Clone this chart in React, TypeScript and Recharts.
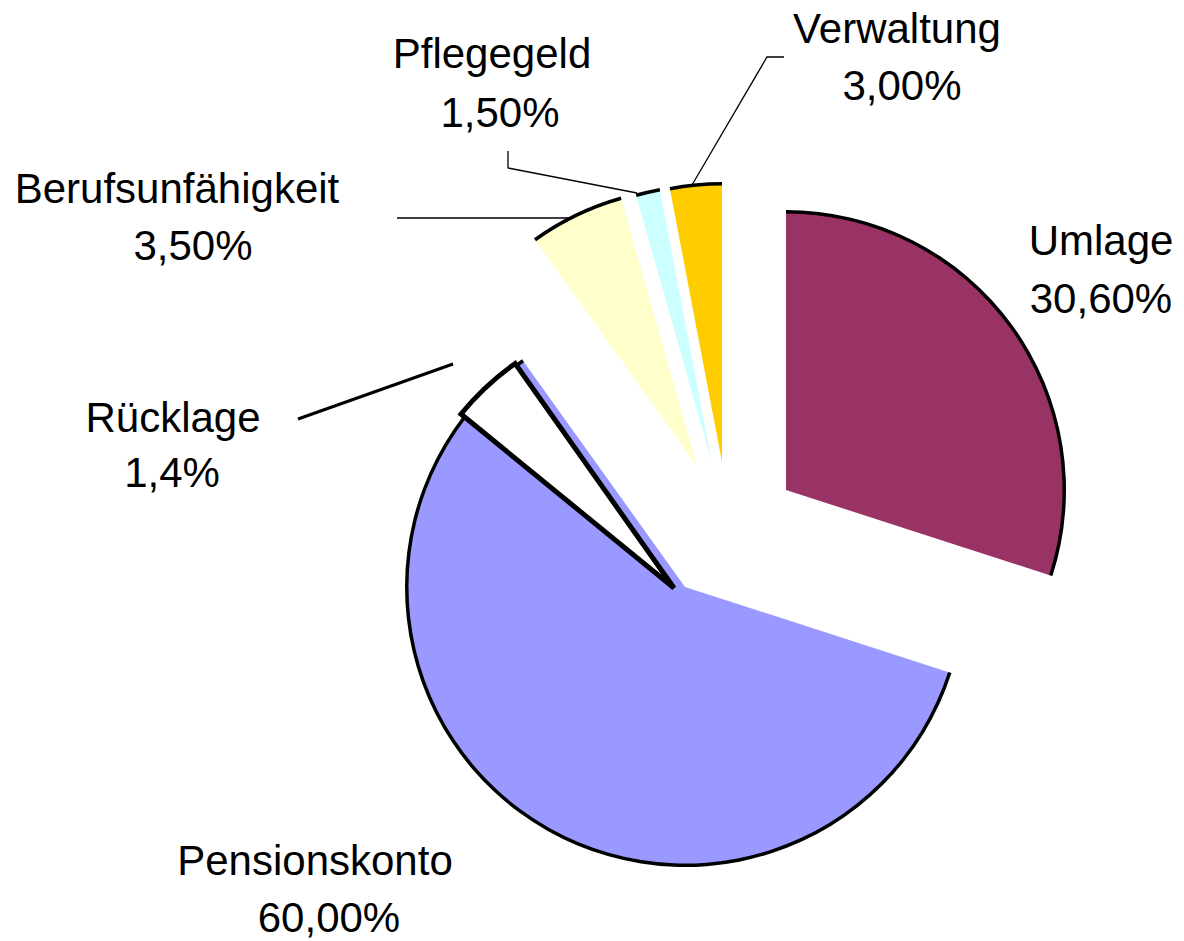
import { PieChart, Pie, Cell, Customized } from "recharts";

const NAMES = ["Umlage", "Pensionskonto", "Berufsunfähigkeit", "Pflegegeld", "Verwaltung"];
const VALUES = [30.0, 60.2, 5.5, 1.4, 3.0];
const COLORS = ["#993366", "#9999FF", "#FFFFCC", "#CCFFFF", "#FFCC00"];
// apex of each exploded slice
const CENTERS: [number, number][] = [
  [786, 490],
  [685, 587],
  [697, 466],
  [712, 463],
  [722, 462],
];

// Rücklage is drawn on top of the Pensionskonto slice
const RUECKLAGE_NAMES = ["_before", "Rücklage", "_after"];
const RUECKLAGE_VALUES = [85.9, 4.3, 9.8];
const RUECKLAGE_CENTER: [number, number] = [674, 588];

// label texts as printed
const LABEL_NAMES = ["Umlage", "Pensionskonto", "Rücklage", "Berufsunfähigkeit", "Pflegegeld", "Verwaltung"];
const LABEL_PCTS = ["30,60%", "60,00%", "1,4%", "3,50%", "1,50%", "3,00%"];

const W = 1184;
const H = 941;
const R = 278;
const FONT = "'Liberation Sans', Arial, sans-serif";

const data = NAMES.map((name, i) => ({ name, value: VALUES[i] }));
const rData = RUECKLAGE_NAMES.map((name, i) => ({ name, value: RUECKLAGE_VALUES[i] }));

// text placement: [x line1, y line1, x line2, y line2]
const LABEL_POS: Record<string, number[]> = {
  Umlage: [1101, 255, 1101, 313],
  Pensionskonto: [315, 875, 329, 932],
  "Rücklage": [173, 432, 172, 487],
  "Berufsunfähigkeit": [177, 203, 193, 260],
  Pflegegeld: [492, 68, 500, 127],
  Verwaltung: [897, 43, 902, 100],
};

const LEADERS = [
  { pts: "692,185 767,57 784,57", w: 1.3 },
  { pts: "637,193 508,168 508,151", w: 1.3 },
  { pts: "397,218 572,218", w: 1.3 },
  { pts: "298,419 453,364", w: 3 },
];

const Annotations = () => (
  <g>
    {LEADERS.map((l, i) => (
      <polyline key={i} points={l.pts} fill="none" stroke="#000" strokeWidth={l.w} />
    ))}
    {LABEL_NAMES.map((name, i) => {
      const p = LABEL_POS[name];
      return (
        <g key={name} fontFamily={FONT} fontSize={42} fill="#000" textAnchor="middle">
          <text x={p[0]} y={p[1]}>{name}</text>
          <text x={p[2]} y={p[3]}>{LABEL_PCTS[i]}</text>
        </g>
      );
    })}
  </g>
);

const slicePies = (i: number) => [
  <Pie
    key={`fill-${i}`}
    data={data}
    dataKey="value"
    nameKey="name"
    cx={CENTERS[i][0]}
    cy={CENTERS[i][1]}
    outerRadius={R}
    startAngle={90}
    endAngle={-270}
    isAnimationActive={false}
    stroke="none"
  >
    {data.map((_, j) => (
      <Cell key={j} fill={j === i ? COLORS[i] : "none"} stroke="none" />
    ))}
  </Pie>,
  <Pie
    key={`arc-${i}`}
    data={data}
    dataKey="value"
    nameKey="name"
    cx={CENTERS[i][0]}
    cy={CENTERS[i][1]}
    innerRadius={R - 1.5}
    outerRadius={R + 2}
    startAngle={90}
    endAngle={-270}
    isAnimationActive={false}
    stroke="none"
  >
    {data.map((_, j) => (
      <Cell key={j} fill={j === i ? "#000" : "none"} stroke="none" />
    ))}
  </Pie>,
];

export default function App() {
  return (
    <div style={{ position: "absolute", left: 0, top: 0, background: "#fff" }}>
      <PieChart width={W} height={H} margin={{ top: 0, right: 0, bottom: 0, left: 0 }}>
        {slicePies(0)}
        {slicePies(1)}
        <Pie
          data={rData}
          dataKey="value"
          nameKey="name"
          cx={RUECKLAGE_CENTER[0]}
          cy={RUECKLAGE_CENTER[1]}
          outerRadius={R - 3}
          startAngle={90}
          endAngle={-270}
          isAnimationActive={false}
        >
          {rData.map((d, j) => (
            <Cell
              key={j}
              fill={d.name === "Rücklage" ? "#fff" : "none"}
              stroke={d.name === "Rücklage" ? "#000" : "none"}
              strokeWidth={5}
            />
          ))}
        </Pie>
        {slicePies(2)}
        {slicePies(3)}
        {slicePies(4)}
        <Customized component={Annotations} />
      </PieChart>
    </div>
  );
}
